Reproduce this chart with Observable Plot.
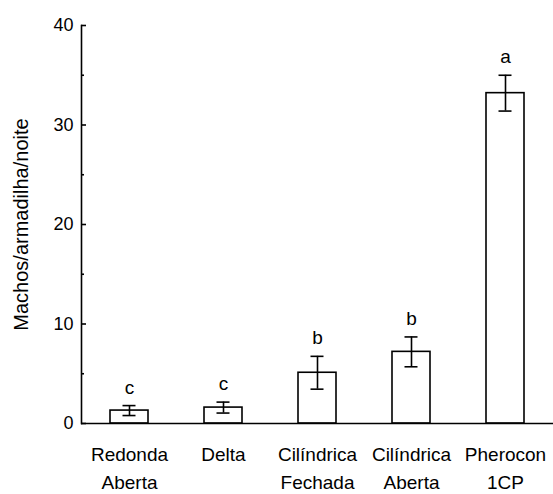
<!DOCTYPE html>
<html>
<head>
<meta charset="utf-8">
<script src="https://cdn.jsdelivr.net/npm/d3@7"></script>
<script src="https://cdn.jsdelivr.net/npm/@observablehq/plot@0.6"></script>
<style>
  body { margin: 0; background: #fff; }
  svg { font-family: "Liberation Sans", Arial, sans-serif; }
</style>
</head>
<body>
<div id="chart"></div>
<script>
const categories = ["Redonda\nAberta", "Delta", "Cilíndrica\nFechada", "Cilíndrica\nAberta", "Pherocon\n1CP"];
const means = [1.3, 1.6, 5.1, 7.2, 33.2];
const errors = [0.5, 0.55, 1.65, 1.5, 1.8];
const letters = ["c", "c", "b", "b", "a"];
const majorTicks = [0, 10, 20, 30, 40];
const minorTicks = [5, 15, 25, 35];

const data = categories.map((c, i) => ({
  cat: c, mean: means[i], lo: means[i] - errors[i], hi: means[i] + errors[i], letter: letters[i]
}));

const fs = 19;
const chart = Plot.plot({
  width: 553,
  height: 494,
  marginLeft: 81,
  marginRight: 0,
  marginTop: 25,
  marginBottom: 71,
  style: { fontFamily: "Liberation Sans, Arial, sans-serif", fontSize: fs + "px", background: "#fff", color: "#000" },
  x: { domain: categories, paddingInner: 0.6, paddingOuter: 0.3, label: null },
  y: { domain: [0, 40], label: null },
  marks: [
    Plot.barY(data, { x: "cat", y: "mean", fill: "white", stroke: "black", strokeWidth: 1.6 }),
    Plot.ruleX(data, { x: "cat", y1: "lo", y2: "hi", stroke: "black", strokeWidth: 1.6 }),
    Plot.tickY(data, { x: "cat", y: "lo", stroke: "black", strokeWidth: 1.6, inset: 12.5 }),
    Plot.tickY(data, { x: "cat", y: "hi", stroke: "black", strokeWidth: 1.6, inset: 12.5 }),
    Plot.text(data, { x: "cat", y: "hi", text: "letter", dy: -12, lineAnchor: "bottom", fontSize: fs, fill: "black" }),
    Plot.axisY({ ticks: majorTicks, tickSize: -5, tickPadding: 13, strokeWidth: 1.6, fontSize: 18, label: null }),
    Plot.axisY({ ticks: [], tickSize: 0, fontSize: 20, label: "Machos/armadilha/noite", labelAnchor: "center", labelOffset: 68, labelArrow: "none" }),
    Plot.axisY({ ticks: minorTicks, tickSize: -3, tickFormat: () => "", strokeWidth: 1.6, label: null }),
    Plot.axisX({ tickSize: 0, tickPadding: 18, fontSize: fs, lineHeight: 1.47, label: null }),
    Plot.frame({ anchor: "left", stroke: "black", strokeWidth: 1.6 }),
    Plot.ruleY([0], { stroke: "black", strokeWidth: 1.6 })
  ]
});
document.getElementById("chart").appendChild(chart);
</script>
</body>
</html>
